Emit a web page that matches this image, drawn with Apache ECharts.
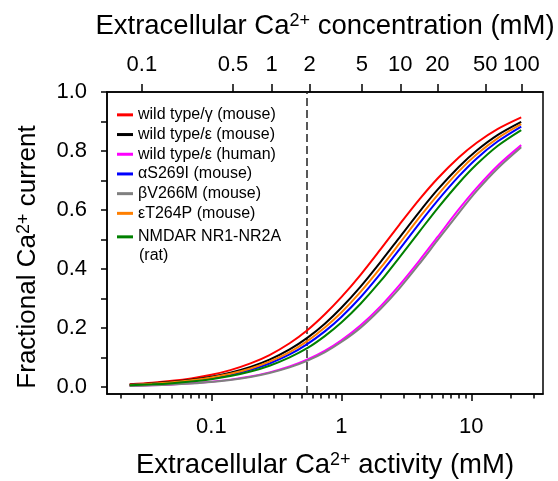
<!DOCTYPE html>
<html>
<head>
<meta charset="utf-8">
<script src="https://cdn.jsdelivr.net/npm/echarts@6/dist/echarts.min.js"></script>
<style>
html,body{margin:0;padding:0;background:#fff;}
#chart{width:558px;height:481px;}
</style>
</head>
<body>
<div id="chart"></div>
<script>
// Ca2+ activity (mM) where curves were read
var activity = [0.0235, 0.035, 0.05, 0.07, 0.1, 0.14, 0.2, 0.28, 0.4, 0.55, 0.75, 1, 1.4, 2, 2.8, 4, 5.5, 8, 11, 16, 24.2];

var wtGammaMouse = [0.0102, 0.0151, 0.0215, 0.0298, 0.0420, 0.0579, 0.0806, 0.109, 0.149, 0.194, 0.248, 0.305, 0.380, 0.467, 0.551, 0.637, 0.707, 0.778, 0.828, 0.875, 0.914];
var wtEpsMouse   = [0.0086, 0.0127, 0.0181, 0.0251, 0.0355, 0.0490, 0.0685, 0.0933, 0.128, 0.168, 0.216, 0.269, 0.340, 0.424, 0.507, 0.595, 0.669, 0.746, 0.802, 0.855, 0.899];
var wtEpsHuman   = [0.0044, 0.0066, 0.0093, 0.0130, 0.0185, 0.0257, 0.0364, 0.0502, 0.0702, 0.0940, 0.124, 0.159, 0.209, 0.274, 0.346, 0.430, 0.509, 0.602, 0.675, 0.751, 0.820];
var aS269I       = [0.0073, 0.0108, 0.0154, 0.0214, 0.0303, 0.0419, 0.0588, 0.0805, 0.111, 0.147, 0.190, 0.238, 0.304, 0.385, 0.467, 0.556, 0.632, 0.714, 0.775, 0.833, 0.883];
var bV266M       = [0.0042, 0.0063, 0.0089, 0.0125, 0.0177, 0.0246, 0.0348, 0.0480, 0.0672, 0.0902, 0.119, 0.153, 0.201, 0.265, 0.335, 0.419, 0.498, 0.590, 0.665, 0.742, 0.813];
var eT264P       = [0.0079, 0.0117, 0.0167, 0.0232, 0.0328, 0.0453, 0.0635, 0.0867, 0.119, 0.157, 0.203, 0.253, 0.322, 0.404, 0.487, 0.576, 0.651, 0.731, 0.789, 0.844, 0.891];
var nmdar        = [0.0065, 0.0097, 0.0138, 0.0192, 0.0272, 0.0377, 0.0531, 0.0727, 0.101, 0.133, 0.174, 0.219, 0.282, 0.359, 0.440, 0.528, 0.606, 0.691, 0.755, 0.818, 0.871];

// top axis: concentration labels placed at the matching activity
var concLabels = ['0.1', '0.5', '1', '2', '5', '10', '20', '50', '100'];
var concActivity = [0.0292, 0.1466, 0.291, 0.570, 1.44, 2.84, 5.48, 12.8, 24.25];

var bottomLabels = [0.1, 1, 10];
var bottomMinor = [0.02,0.03,0.04,0.05,0.06,0.07,0.08,0.09,0.2,0.3,0.4,0.5,0.6,0.7,0.8,0.9,2,3,4,5,6,7,8,9,20,30];
var yTicks = [0, 0.1, 0.2, 0.3, 0.4, 0.5, 0.6, 0.7, 0.8, 0.9, 1.0];
var yLabels = [0, 0.2, 0.4, 0.6, 0.8, 1.0];
var physiolActivity = 0.538;

var names = ['wild type/\u03b3 (mouse)', 'wild type/\u03b5 (mouse)', 'wild type/\u03b5 (human)',
             '\u03b1S269I (mouse)', '\u03b2V266M (mouse)', '\u03b5T264P (mouse)', 'NMDAR NR1-NR2A'];
var colors = ['#ff0000', '#000000', '#ff00ff', '#0000ff', '#808080', '#ff7f00', '#008000'];
var curves = [wtGammaMouse, wtEpsMouse, wtEpsHuman, aS269I, bV266M, eT264P, nmdar];

var FONT = 'Liberation Sans, Arial, sans-serif';
var xMin = 0.01574, xMax = 35.6;
var black = {color: '#000', width: 1.5};
var supRich = {s: {fontSize: 18, verticalAlign: 'top', color: '#000', fontFamily: FONT}};

function pairs(ys) {
    return activity.map(function (a, i) { return [a, ys[i]]; });
}
function fmt(v) { return String(+(+v).toPrecision(3)); }

var chart = echarts.init(document.getElementById('chart'));

var series = curves.map(function (ys, i) {
    return {
        name: names[i],
        type: 'line',
        xAxisIndex: 0,
        data: pairs(ys),
        smooth: 0.3,
        showSymbol: false,
        symbol: 'none',
        lineStyle: {color: colors[i], width: 2},
        itemStyle: {color: colors[i]},
        z: 3
    };
});
series[0].markLine = {
    silent: true,
    symbol: ['none', 'none'],
    label: {show: false},
    lineStyle: {type: [8, 4], color: '#222', width: 1.5},
    data: [{xAxis: physiolActivity}],
    z: 2
};

var option = {
    animation: false,
    backgroundColor: '#fff',
    textStyle: {fontFamily: FONT},
    grid: {
        left: 107, right: 15, top: 92, bottom: 87,
        show: true, borderColor: '#000', borderWidth: 1.5,
        outerBoundsMode: 'none'
    },
    legend: [{
        data: names.slice(0, 6),
        orient: 'vertical',
        left: 117, top: 105,
        padding: 0, itemGap: 0,
        icon: 'rect', itemWidth: 16, itemHeight: 3,
        textStyle: {fontSize: 16, lineHeight: 19.7, color: '#000', fontFamily: FONT}
    }, {
        data: names.slice(6),
        orient: 'vertical',
        left: 117, top: 227,
        padding: 0,
        icon: 'rect', itemWidth: 16, itemHeight: 3,
        textStyle: {fontSize: 16, lineHeight: 19.7, color: '#000', fontFamily: FONT}
    }],
    graphic: [{
        type: 'text', left: 139, top: 248,
        style: {text: '(rat)', font: '16px ' + FONT, fill: '#000'}
    }],
    xAxis: [{
        type: 'log', logBase: 10, min: xMin, max: xMax, position: 'bottom',
        axisLine: {show: true, onZero: false, lineStyle: black},
        axisTick: {show: true, length: 7, customValues: bottomLabels, lineStyle: black},
        axisLabel: {customValues: bottomLabels, formatter: fmt, fontSize: 22, margin: 22, color: '#000', fontFamily: FONT},
        splitLine: {show: false},
        name: 'Extracellular Ca{s|2+} activity (mM)',
        nameLocation: 'middle', nameGap: 57,
        nameTextStyle: {fontSize: 27.5, color: '#000', fontFamily: FONT, rich: supRich}
    }, {
        type: 'log', logBase: 10, min: xMin, max: xMax, position: 'top',
        axisLine: {show: true, onZero: false, lineStyle: black},
        axisTick: {show: true, length: 8, customValues: concActivity, lineStyle: black},
        axisLabel: {
            customValues: concActivity, fontSize: 22, margin: 16, color: '#000', fontFamily: FONT,
            formatter: function (v) {
                var best = 0;
                concActivity.forEach(function (c, i) {
                    if (Math.abs(Math.log(v / c)) < Math.abs(Math.log(v / concActivity[best]))) best = i;
                });
                return concLabels[best];
            }
        },
        splitLine: {show: false},
        name: 'Extracellular Ca{s|2+} concentration (mM)',
        nameLocation: 'middle', nameGap: 52,
        nameTextStyle: {fontSize: 27.5, color: '#000', fontFamily: FONT, rich: supRich}
    }, {
        type: 'log', logBase: 10, min: xMin, max: xMax, position: 'bottom',
        axisLine: {show: false, onZero: false},
        axisTick: {show: true, length: 4.5, customValues: bottomMinor, lineStyle: black},
        axisLabel: {show: false},
        splitLine: {show: false}
    }],
    yAxis: {
        type: 'value', min: -0.023, max: 1.0,
        axisLine: {show: true, onZero: false, lineStyle: black},
        axisTick: {show: true, length: 6, customValues: yTicks, lineStyle: black},
        axisLabel: {customValues: yLabels, formatter: function (v) { return (+v).toFixed(1); },
            fontSize: 22, margin: 20, color: '#000', fontFamily: FONT},
        splitLine: {show: false},
        name: 'Fractional Ca{s|2+} current',
        nameLocation: 'middle', nameGap: 66,
        nameTextStyle: {fontSize: 26, color: '#000', fontFamily: FONT, padding: [0, 28, 0, 0], rich: supRich}
    },
    series: series
};

chart.setOption(option);
window.addEventListener('resize', function () { chart.resize(); });
</script>
</body>
</html>
